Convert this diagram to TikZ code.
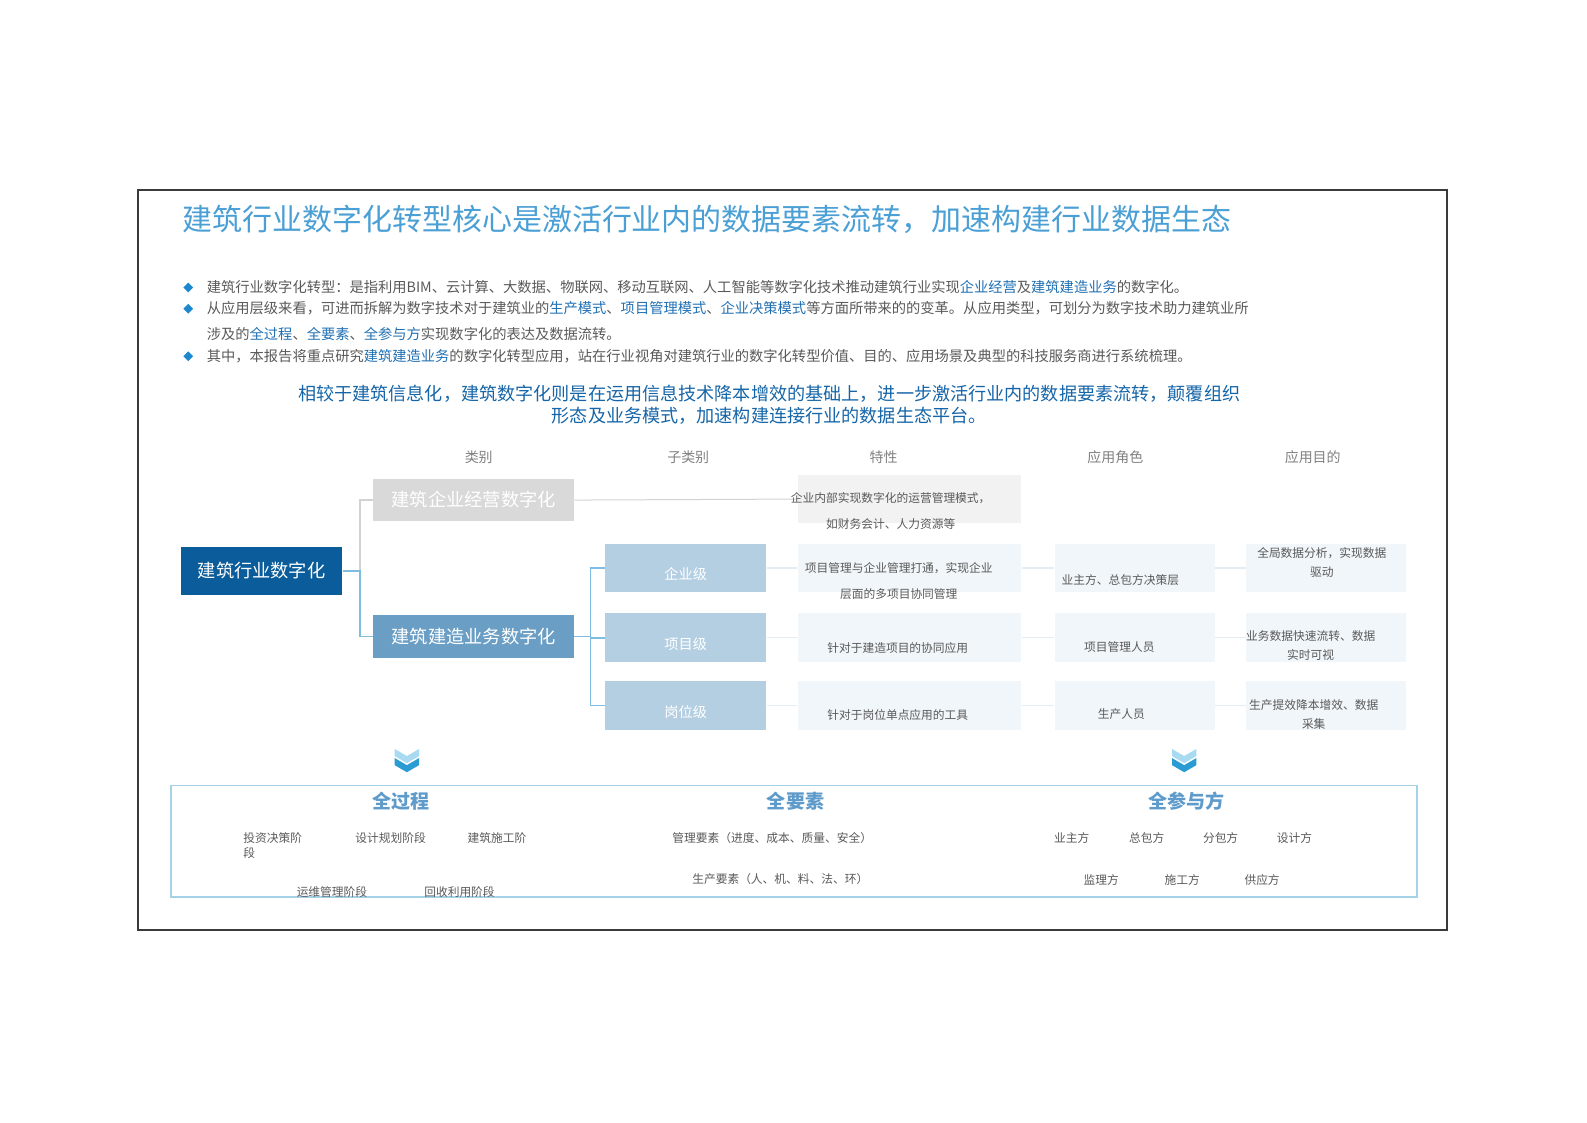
\documentclass[tikz,border=0pt]{standalone}
\usepackage{fontspec}
\setmainfont{Noto Sans CJK SC}
\usetikzlibrary{shapes.geometric}
\definecolor{framegray}{HTML}{3A3A3A}
\definecolor{titblue}{HTML}{4A9FD5}
\definecolor{bulblue}{HTML}{1E88CF}
\definecolor{bodygray}{HTML}{595959}
\definecolor{emblue}{HTML}{1F6FB2}
\definecolor{subblue}{HTML}{1565A8}
\definecolor{rootblue}{HTML}{0B5C9A}
\definecolor{catblue}{HTML}{6A9EC5}
\definecolor{catgray}{HTML}{D9D9D9}
\definecolor{lvlblue}{HTML}{B5CFE2}
\definecolor{featgray}{HTML}{F2F2F2}
\definecolor{featblue}{HTML}{F1F6FA}
\definecolor{linkblue}{HTML}{7DBDE2}
\definecolor{linkgray}{HTML}{D2D2D2}
\definecolor{linkfaint}{HTML}{E1ECF5}
\definecolor{chevlight}{HTML}{A8DAF2}
\definecolor{chevdark}{HTML}{2B9BD3}
\definecolor{allframe}{HTML}{A6D2E8}
\definecolor{allhead}{HTML}{5E9BCB}
\newcommand{\emcol}[1]{\textcolor{emblue}{#1}}
\tikzset{
  bul/.style={diamond,fill=bulblue,inner sep=0pt,minimum size=5pt},
  body/.style={anchor=west,inner sep=0pt,text=bodygray,font=\fontsize{7.05}{9}\selectfont},
  colhead/.style={text=gray,font=\fontsize{6.9}{8}\selectfont},
  rootbox/.style={fill=rootblue,text=white,minimum width=79.5pt,minimum height=24pt,inner sep=0pt,font=\fontsize{9}{10}\selectfont},
  catbox/.style={text=white,minimum width=99pt,minimum height=21pt,inner sep=0pt,font=\fontsize{9}{10}\selectfont},
  lvlbox/.style={fill=lvlblue,text=white,minimum width=79.5pt,minimum height=24pt,inner sep=0pt,text height=12pt,text depth=0pt,font=\fontsize{7}{8}\selectfont},
  featbox/.style={fill=featblue,minimum width=110.5pt,minimum height=24pt,inner sep=0pt},
  rolebox/.style={fill=featblue,minimum width=79pt,minimum height=24pt,inner sep=0pt},
  small/.style={text=bodygray,align=center,inner sep=0pt,font=\fontsize{5.8}{12.5}\selectfont},
  link/.style={line width=0.75pt},
  faint/.style={linkfaint,line width=0.6pt},
  allhd/.style={text=allhead,font=\bfseries\fontsize{9.4}{10}\selectfont},
  item/.style={text=bodygray,inner sep=0pt,font=\fontsize{5.8}{7.5}\selectfont}
}
\begin{document}
\begin{tikzpicture}[x=0.5pt,y=-0.5pt,scale=1.012,transform shape]
\useasboundingbox (0,0) rectangle (1568,1108.6);
% frame and title
\draw[framegray,line width=1pt] (136,188) rectangle (1430,919);
\node[anchor=west,inner sep=0pt,text=titblue,font=\fontsize{14.8}{16}\selectfont] (title) at (180,217) {建筑行业数字化转型核心是激活行业内的数据要素流转，加速构建行业数据生态};

% bullet points
\foreach \y/\n in {284/b1,305/b2,352/b3} \node[bul] (\n) at (186,\y) {};
\node[body] (t1) at (204,284) {建筑行业数字化转型：是指利用BIM、云计算、大数据、物联网、移动互联网、人工智能等数字化技术推动建筑行业实现\emcol{企业经营}及\emcol{建筑建造业务}的数字化。};
\node[body] (t2) at (204,305) {从应用层级来看，可进而拆解为数字技术对于建筑业的\emcol{生产模式}、\emcol{项目管理模式}、\emcol{企业决策模式}等方面所带来的的变革。从应用类型，可划分为数字技术助力建筑业所};
\node[body] (t3) at (204,330) {涉及的\emcol{全过程}、\emcol{全要素}、\emcol{全参与方}实现数字化的表达及数据流转。};
\node[body] (t4) at (204,352) {其中，本报告将重点研究\emcol{建筑建造业务}的数字化转型应用，站在行业视角对建筑行业的数字化转型价值、目的、应用场景及典型的科技服务商进行系统梳理。};

\node[align=center,inner sep=0pt,text=subblue,font=\fontsize{8.95}{11}\selectfont] (subt) at (760,400) {相较于建筑信息化，建筑数字化则是在运用信息技术降本增效的基础上，进一步激活行业内的数据要素流转，颠覆组织\\形态及业务模式，加速构建连接行业的数据生态平台。};

% column heads
\node[colhead] (h1) at (473,452) {类别};
\node[colhead] (h2) at (680,452) {子类别};
\node[colhead] (h3) at (873,452) {特性};
\node[colhead] (h4) at (1102,452) {应用角色};
\node[colhead] (h5) at (1297,452) {应用目的};

% tree
\node[rootbox] (root) at (258.5,564) {建筑行业数字化};
\node[catbox,fill=catgray] (cat1) at (468,494) {建筑企业经营数字化};
\node[catbox,fill=catblue] (cat2) at (468,629) {建筑建造业务数字化};
\node[lvlbox] (lvl1) at (677.5,561) {企业级};
\node[lvlbox] (lvl2) at (677.5,630) {项目级};
\node[lvlbox] (lvl3) at (677.5,697) {岗位级};
\node[featbox,fill=featgray] (feat0) at (898.5,493) {};
\foreach \y/\n in {561/1,630/2,697/3}{
  \node[featbox] (feat\n) at (898.5,\y) {};
  \node[rolebox] (role\n) at (1121,\y) {};
  \node[rolebox] (goal\n) at (1310.5,\y) {};
}
\draw[link,linkgray] (root.east) -- ++(17,0) |- (cat1.west);
\draw[link,linkblue] (root.east) -- ++(17,0) |- (cat2.west);
\foreach \n in {1,2,3} \draw[link,linkblue] (cat2.east) -- ++(16,0) |- (lvl\n.west);
\draw[linkgray,line width=0.5pt] (cat1.east) -- (feat0.west);
\foreach \n in {1,2,3}{
  \draw[faint] (lvl\n.east) -- (feat\n.west);
  \draw[faint] (feat\n.east) -- (role\n.west);
  \draw[faint] (role\n.east) -- (goal\n.west);
}

% cell texts
\node[small] (f0t) at (880,505) {企业内部实现数字化的运营管理模式，\\如财务会计、人力资源等};
\node[small] (f1t) at (888,574) {项目管理与企业管理打通，实现企业\\层面的多项目协同管理};
\node[small] (f2t) at (887,640) {针对于建造项目的协同应用};
\node[small] (f3t) at (887,706) {针对于岗位单点应用的工具};
\node[small] (r1t) at (1107,573) {业主方、总包方决策层};
\node[small] (r2t) at (1106,639) {项目管理人员};
\node[small] (r3t) at (1108,706) {生产人员};
\node[small,font=\fontsize{5.8}{9.5}\selectfont] (g1t) at (1306,556) {全局数据分析，实现数据\\驱动};
\node[small,font=\fontsize{5.8}{9.5}\selectfont] (g2t) at (1295,637.5) {业务数据快速流转、数据\\实时可视};
\node[small,font=\fontsize{5.8}{9.5}\selectfont] (g3t) at (1298,706) {生产提效降本增效、数据\\采集};

% chevrons
\foreach \x in {402,1170}{
  \fill[chevlight] (\x-12,740) -- (\x,747) -- (\x+12,740) -- (\x+12,747) -- (\x,754) -- (\x-12,747) -- cycle;
  \fill[chevdark] (\x-12,749) -- (\x,756) -- (\x+12,749) -- (\x+12,756) -- (\x,763) -- (\x-12,756) -- cycle;
}

% bottom panel
\node[draw=allframe,line width=0.8pt,minimum width=615.5pt,minimum height=55pt,inner sep=0pt] (all) at (784.5,831) {};
\node[allhd] (p1) at (396,792) {全过程};
\node[allhd] (p2) at (786,792) {全要素};
\node[allhd] (p3) at (1172,792) {全参与方};
\node[item,anchor=north west,align=left] (s1) at (240,822) {投资决策阶\\段};
\node[item] (s2) at (386,828) {设计规划阶段};
\node[item] (s3) at (491,828) {建筑施工阶};
\node[item] (s4) at (328,881) {运维管理阶段};
\node[item] (s5) at (454,881) {回收利用阶段};
\node[item] (e1) at (763,828) {管理要素（进度、成本、质量、安全）};
\node[item] (e2) at (771,869) {生产要素（人、机、料、法、环）};
\foreach \x/\t/\n in {1059/业主方/1,1133/总包方/2,1206/分包方/3,1279/设计方/4}
  \node[item] (q\n) at (\x,828) {\t};
\foreach \x/\t/\n in {1088/监理方/5,1168/施工方/6,1247/供应方/7}
  \node[item] (q\n) at (\x,869) {\t};
\end{tikzpicture}
\end{document}
